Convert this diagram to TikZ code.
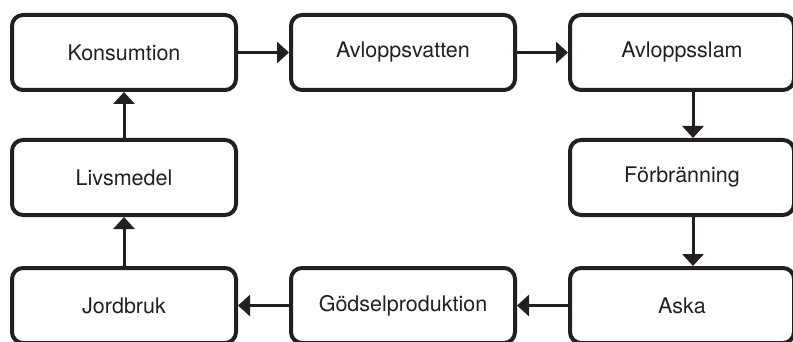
\documentclass[tikz,border=0pt]{standalone}
\usepackage{fontspec}
\setmainfont{TeX Gyre Heros}
\usetikzlibrary{arrows.meta}
\definecolor{boxline}{HTML}{231F20}
\tikzset{
  stage/.style={draw=boxline, line width=4pt, rounded corners=11pt,
                minimum width=224pt, minimum height=75pt, inner sep=0pt,
                font=\fontsize{21.5}{24}\selectfont, text=boxline},
  flow/.style={draw=boxline, line width=3pt,
               -{Triangle[length=12pt,width=21pt]}},
}

\begin{document}
\begin{tikzpicture}[x=1pt, y=-1pt]
    \useasboundingbox (0,0) rectangle (793,342);
    \node[stage] (kons) at (124, 52.5) {Konsumtion};
    \node[stage] (vatten) at (403, 52.5) {Avloppsvatten};
    \node[stage] (slam) at (682, 52.5) {Avloppsslam};
    \node[stage] (forbr) at (682, 177.5) {Förbränning};
    \node[stage] (aska) at (682, 305.5) {Aska};
    \node[stage] (godsel) at (403, 305.5) {Gödselproduktion};
    \node[stage] (jord) at (124, 305.5) {Jordbruk};
    \node[stage] (livs) at (124, 177.5) {Livsmedel};
    \draw[flow] (kons) -- (vatten);
    \draw[flow] (vatten) -- (slam);
    \draw[flow] ([xshift=11pt]slam.south) -- ([xshift=11pt]forbr.north);
    \draw[flow] ([xshift=11pt]forbr.south) -- ([xshift=11pt]aska.north);
    \draw[flow] (aska) -- (godsel);
    \draw[flow] (godsel) -- (jord);
    \draw[flow] (jord) -- (livs);
    \draw[flow] (livs) -- (kons);
  \end{tikzpicture}
\end{document}
